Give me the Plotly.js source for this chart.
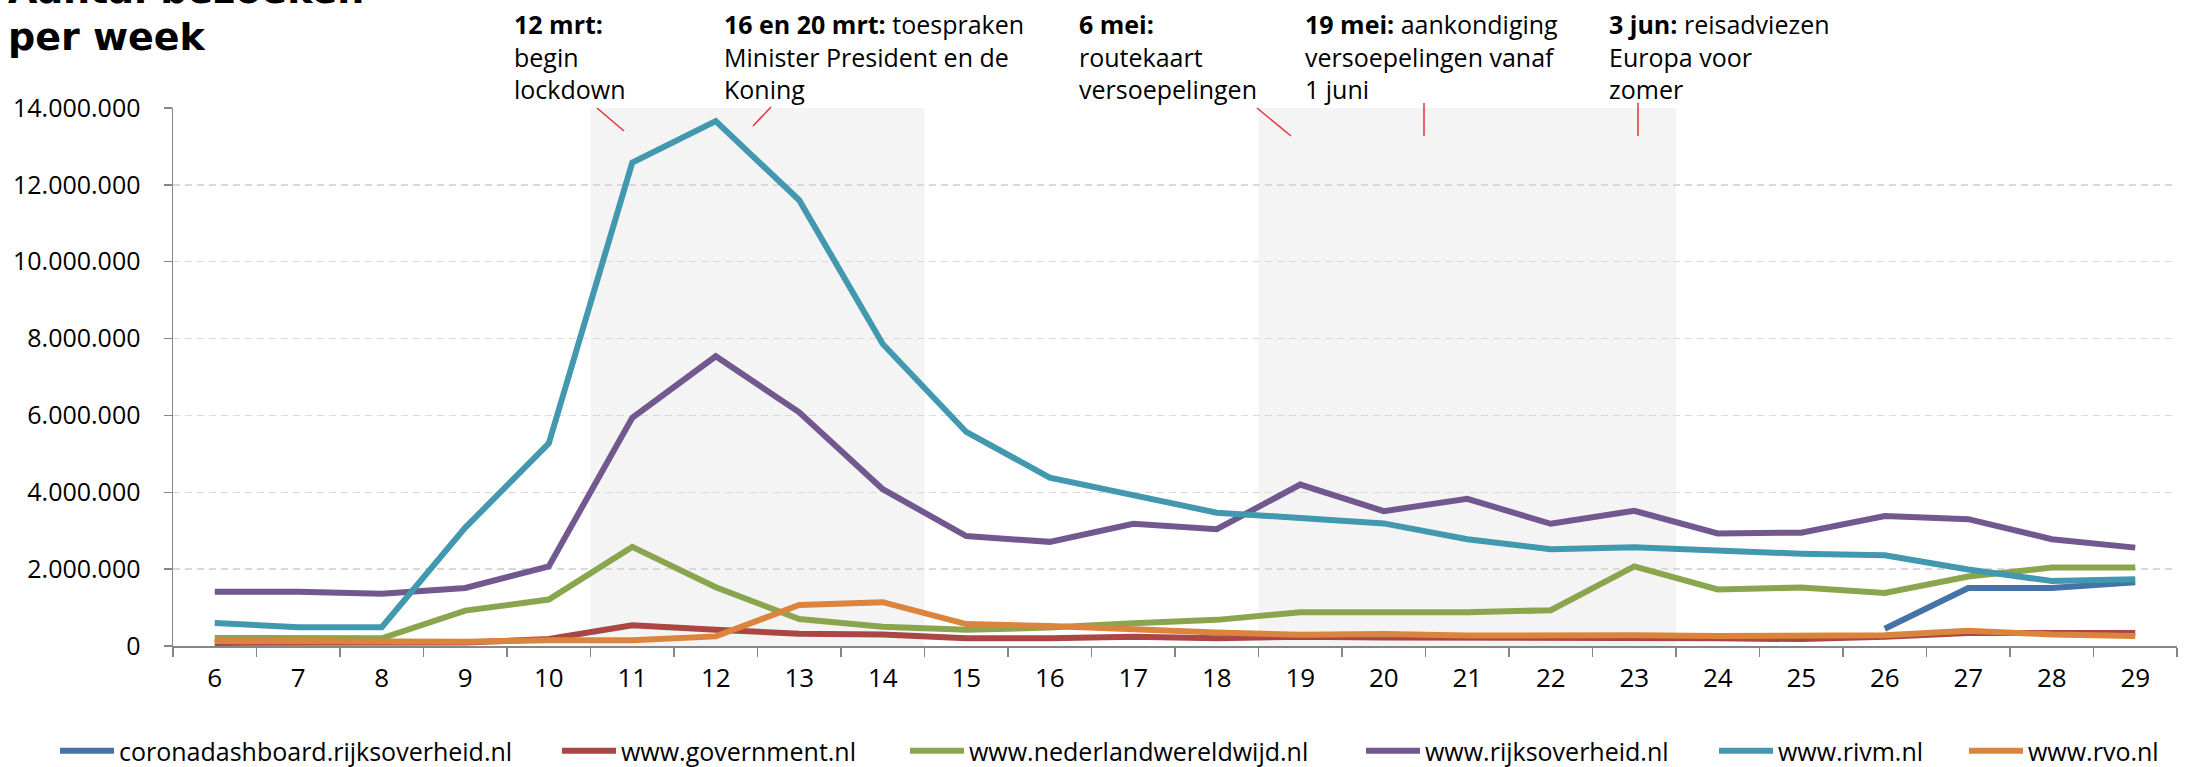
<!DOCTYPE html>
<html>
<head>
<meta charset="utf-8">
<script src="https://cdn.plot.ly/plotly-3.0.1.min.js"></script>
<style>
html,body{margin:0;padding:0;background:#fff;}
#chart{width:2187px;height:767px;}
</style>
</head>
<body>
<div id="chart"></div>
<script>
// ---- data (weeks 2020) ----
const weeks = ['6','7','8','9','10','11','12','13','14','15','16','17','18','19','20','21','22','23','24','25','26','27','28','29'];
const seriesNames = ['coronadashboard.rijksoverheid.nl','www.government.nl','www.nederlandwereldwijd.nl','www.rijksoverheid.nl','www.rivm.nl','www.rvo.nl'];
const coronadashboard = [null,null,null,null,null,null,null,null,null,null,null,null,null,null,null,null,null,null,null,null,450000,1510000,1510000,1660000];
const government = [80000,80000,80000,90000,180000,540000,420000,320000,300000,200000,200000,240000,200000,240000,220000,220000,220000,220000,200000,180000,240000,340000,350000,340000];
const nederlandwereldwijd = [210000,200000,200000,920000,1210000,2580000,1530000,700000,500000,420000,480000,590000,680000,880000,890000,880000,930000,2070000,1470000,1520000,1380000,1810000,2040000,2040000];
const rijksoverheid = [1410000,1410000,1360000,1510000,2070000,5940000,7540000,6080000,4080000,2860000,2710000,3180000,3040000,4200000,3510000,3830000,3180000,3520000,2930000,2950000,3380000,3300000,2780000,2560000];
const rivm = [600000,490000,490000,3080000,5270000,12580000,13660000,11600000,7860000,5570000,4380000,3910000,3470000,3330000,3190000,2780000,2520000,2570000,2480000,2400000,2360000,1990000,1690000,1740000];
const rvo = [130000,120000,120000,110000,150000,150000,250000,1070000,1140000,570000,520000,420000,350000,290000,310000,270000,280000,280000,260000,270000,280000,400000,300000,260000];
const shadedPeriods = [['11','14'],['19','23']];
const events = [
  '<b>12 mrt:</b><br>begin<br>lockdown',
  '<b>16 en 20 mrt:</b> toespraken<br>Minister President en de<br>Koning',
  '<b>6 mei:</b><br>routekaart<br>versoepelingen',
  '<b>19 mei:</b> aankondiging<br>versoepelingen vanaf<br>1 juni',
  '<b>3 jun:</b> reisadviezen<br>Europa voor<br>zomer'
];
const titleLines = ['Aantal bezoeken','per week'];

// ---- styling / layout ----
const colors = ['#4572A7','#AA4643','#89A54E','#71588F','#4198AF','#DB843D'];
const allSeries = [coronadashboard, government, nederlandwereldwijd, rijksoverheid, rivm, rvo];
const W = 2187, H = 767;
const M = {l:173, r:10, t:108, b:121};
const PW = W - M.l - M.r, PH = H - M.t - M.b;
const px2x = px => (px - M.l) / PW;
const py2y = py => (H - M.b - py) / PH;

const FONT = 'Open Sans, Noto Sans, sans-serif';
const legendLineStarts = [60, 562, 910, 1366, 1719, 1969];

const traces = allSeries.map((s, i) => ({
  type: 'scatter', mode: 'lines', x: weeks, y: s, name: seriesNames[i],
  line: {color: colors[i], width: 6},
  connectgaps: false, showlegend: true,
  legend: i === 0 ? 'legend' : 'legend' + (i + 1),
  hoverinfo: 'skip'
}));

const legendCfg = x => ({
  orientation: 'h', x: px2x(x - 5), xanchor: 'left', y: py2y(751), yanchor: 'middle',
  font: {family: FONT, size: 25, color: '#000'}, itemwidth: 54,
  bgcolor: 'rgba(0,0,0,0)', borderwidth: 0, visible: true
});

const shapes = [];
shadedPeriods.forEach(p => {
  shapes.push({type: 'rect', layer: 'below', xref: 'x', yref: 'paper',
    x0: weeks.indexOf(p[0]) - 0.5, x1: weeks.indexOf(p[1]) + 0.5, y0: 0, y1: 1,
    fillcolor: '#f4f4f4', line: {width: 0}});
});
// red pointer lines from the event texts
const pointers = [[597,108,624,131],[771,107,753,126],[1257,108,1291,136],[1424,103,1424,136],[1638,103,1638,136]];
pointers.forEach(p => shapes.push({type: 'line', xref: 'paper', yref: 'paper',
  x0: px2x(p[0]), y0: py2y(p[1]), x1: px2x(p[2]), y1: py2y(p[3]),
  line: {color: '#e8303a', width: 1.5}}));

const eventX = [512, 722, 1077, 1303, 1607];
const annotations = events.map((t, i) => ({
  text: t, xref: 'paper', yref: 'paper', x: px2x(eventX[i]), y: py2y(5),
  xanchor: 'left', yanchor: 'top', align: 'left', showarrow: false,
  font: {family: FONT, size: 25, color: '#000'}
}));
annotations.push({text: '<b>' + titleLines[0] + '</b>', xref: 'paper', yref: 'paper',
  x: px2x(6), y: py2y(14), xanchor: 'left', yanchor: 'bottom', showarrow: false,
  font: {family: 'DejaVu Sans, sans-serif', size: 38, color: '#000'}});
annotations.push({text: '<b>' + titleLines[1] + '</b>', xref: 'paper', yref: 'paper',
  x: px2x(6), y: py2y(61), xanchor: 'left', yanchor: 'bottom', showarrow: false,
  font: {family: 'DejaVu Sans, sans-serif', size: 38, color: '#000'}});

const layout = {
  width: W, height: H, autosize: false, showlegend: true,
  margin: {l: M.l, r: M.r, t: M.t, b: M.b, pad: 0, autoexpand: false},
  paper_bgcolor: '#fff', plot_bgcolor: '#fff',
  separators: ',.',
  font: {family: FONT, color: '#000'},
  xaxis: {
    type: 'category', range: [-0.5, weeks.length - 0.5], tickson: 'boundaries',
    ticks: 'outside', ticklen: 9, tickwidth: 1.5, tickcolor: '#868686',
    showline: true, linecolor: '#868686', linewidth: 1.5, showgrid: false, zeroline: false,
    tickfont: {family: FONT, size: 26, color: '#000'}, ticklabelstandoff: 8, fixedrange: true
  },
  yaxis: {
    range: [0, 14000000], dtick: 2000000, tick0: 0, tickformat: ',d',
    ticks: 'outside', ticklen: 8, tickwidth: 1.5, tickcolor: '#868686',
    showline: true, linecolor: '#868686', linewidth: 1.5,
    showgrid: true, gridcolor: '#d9d9d9', gridwidth: 1.5, griddash: '7px,5px', zeroline: false,
    tickfont: {family: FONT, size: 25, color: '#000'}, ticklabelstandoff: 18, fixedrange: true
  },
  shapes: shapes,
  annotations: annotations,
  hovermode: false
};
legendLineStarts.forEach((x, i) => {
  layout[i === 0 ? 'legend' : 'legend' + (i + 1)] = legendCfg(x);
});

Plotly.newPlot('chart', traces, layout, {staticPlot: true, displayModeBar: false});
</script>
</body>
</html>
